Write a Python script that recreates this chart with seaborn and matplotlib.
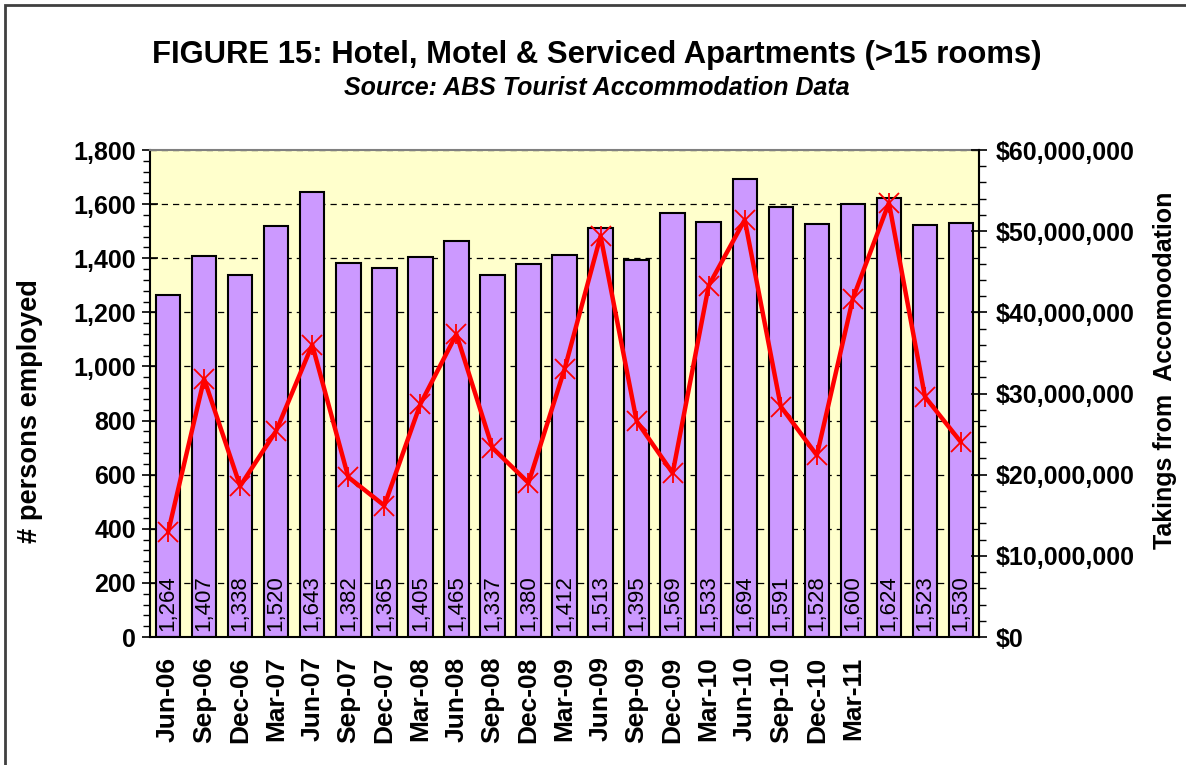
import numpy as np
import pandas as pd
import matplotlib
matplotlib.use("Agg")
import matplotlib.pyplot as plt
import matplotlib.ticker as mticker
from matplotlib.patches import Rectangle
import seaborn as sns

# Quarterly data (23 quarters, only the first 20 carry a date label)
tick_labels = ["Jun-06", "Sep-06", "Dec-06", "Mar-07", "Jun-07", "Sep-07", "Dec-07",
               "Mar-08", "Jun-08", "Sep-08", "Dec-08", "Mar-09", "Jun-09", "Sep-09",
               "Dec-09", "Mar-10", "Jun-10", "Sep-10", "Dec-10", "Mar-11", "", "", ""]
persons_employed = [1264, 1407, 1338, 1520, 1643, 1382, 1365, 1405, 1465, 1337, 1380, 1412,
                    1513, 1395, 1569, 1533, 1694, 1591, 1528, 1600, 1624, 1523, 1530]
takings = [12.9, 31.8, 18.6, 25.4, 36.0, 19.7, 16.2, 28.7, 37.3, 23.3, 19.0, 33.0,
           49.4, 26.6, 20.2, 43.3, 51.4, 28.4, 22.4, 41.7, 53.5, 29.6, 24.0]  # $ millions

df = pd.DataFrame({
    "quarter": np.arange(len(persons_employed)),
    "persons": persons_employed,
    "takings": np.array(takings) * 1e6,
})

sns.set_style("white")
plt.rcParams["font.family"] = ["Liberation Sans", "DejaVu Sans"]
plt.rcParams.update({"text.color": "black", "axes.labelcolor": "black",
                     "xtick.color": "black", "ytick.color": "black"})

fig = plt.figure(figsize=(11.86, 7.65), dpi=100)
ax = fig.add_axes([0.1265, 0.1673, 0.699, 0.6366])
ax.set_facecolor("#FFFFCC")

# bars - persons employed
sns.barplot(data=df, x="quarter", y="persons", color="#CC99FF", edgecolor="black",
            linewidth=1.5, width=0.68, saturation=1, ax=ax, zorder=2)
for i, v in enumerate(df["persons"]):
    ax.annotate(f"{v:,}", (i, 0), xytext=(0, 4), textcoords="offset points",
                rotation=90, ha="center", va="bottom", fontsize=16, color="black",
                zorder=3)

ax.set_ylim(0, 1800)
ax.set_xlim(-0.5, len(df) - 0.5)
ax.yaxis.set_major_locator(mticker.MultipleLocator(200))
ax.yaxis.set_minor_locator(mticker.MultipleLocator(40))
ax.yaxis.set_major_formatter(mticker.FuncFormatter(lambda v, p: f"{int(v):,}"))
ax.yaxis.grid(True, which="major", color="black", linestyle=(0, (5, 4)), linewidth=0.9)
ax.set_axisbelow(True)
ax.tick_params(axis="y", which="major", direction="inout", length=12, width=1.2,
               labelsize=18, pad=4)
ax.tick_params(axis="y", which="minor", direction="out", length=5, width=1)
for lab in ax.get_yticklabels():
    lab.set_fontweight("bold")

ax.set_xticks(df["quarter"])
ax.set_xticklabels(tick_labels, rotation=90, fontsize=19, fontweight="bold")
ax.set_xticks(np.arange(-0.5, len(df), 1.0), minor=True)
ax.tick_params(axis="x", which="major", direction="out", length=4, width=1, pad=10)
ax.tick_params(axis="x", which="minor", direction="out", length=8, width=1)
ax.set_xlabel("")
ax.set_ylabel("")

for s in ["left", "bottom"]:
    ax.spines[s].set_color("black")
    ax.spines[s].set_linewidth(1.5)
for s in ["top", "right"]:
    ax.spines[s].set_color("#808080")
    ax.spines[s].set_linewidth(1.5)

# line - takings on secondary axis
ax2 = ax.twinx()
sns.lineplot(data=df, x="quarter", y="takings", color="red", linewidth=3.2, marker="x",
             markersize=15, markeredgewidth=1.3, markeredgecolor="red", ax=ax2, zorder=4)
ax2.plot(df["quarter"], df["takings"], linestyle="none", marker="|", markersize=15,
         markeredgewidth=1.3, color="red")
ax2.set_ylim(0, 60e6)
ax2.set_xlim(-0.5, len(df) - 0.5)
ax2.yaxis.set_major_locator(mticker.MultipleLocator(10e6))
ax2.yaxis.set_minor_locator(mticker.MultipleLocator(2e6))
ax2.yaxis.set_major_formatter(mticker.FuncFormatter(lambda v, p: f"${int(v):,}"))
ax2.tick_params(axis="y", which="major", direction="inout", length=12, width=1.2,
                labelsize=18, pad=6)
ax2.tick_params(axis="y", which="minor", direction="out", length=5, width=1)
for lab in ax2.get_yticklabels():
    lab.set_fontweight("bold")
ax2.set_xlabel("")
ax2.set_ylabel("")
for s in ax2.spines.values():
    s.set_visible(False)
ax2.spines["right"].set_visible(True)
ax2.spines["right"].set_color("black")
ax2.spines["right"].set_linewidth(1.5)

# titles and axis labels
fig.text(0.503, 0.928, "FIGURE 15: Hotel, Motel & Serviced Apartments (>15 rooms)",
         ha="center", va="center", fontsize=22.3, fontweight="bold")
fig.text(0.503, 0.885, "Source: ABS Tourist Accommodation Data",
         ha="center", va="center", fontsize=18, fontweight="bold", style="italic")
fig.text(30 / 1186, 0.463, "# persons employed", rotation=90, ha="center", va="center",
         fontsize=19.6, fontweight="bold")
fig.text(1165 / 1186, 0.516, "Takings from  Accomoodation", rotation=90, ha="center",
         va="center", fontsize=18, fontweight="bold")

# chart border
fig.patches.append(Rectangle((5 / 1186, -0.05), 1.2, 1 - 5 / 765 + 0.05,
                             transform=fig.transFigure, fill=False,
                             edgecolor="#404040", linewidth=2))

fig.savefig("out.png", dpi=100)
